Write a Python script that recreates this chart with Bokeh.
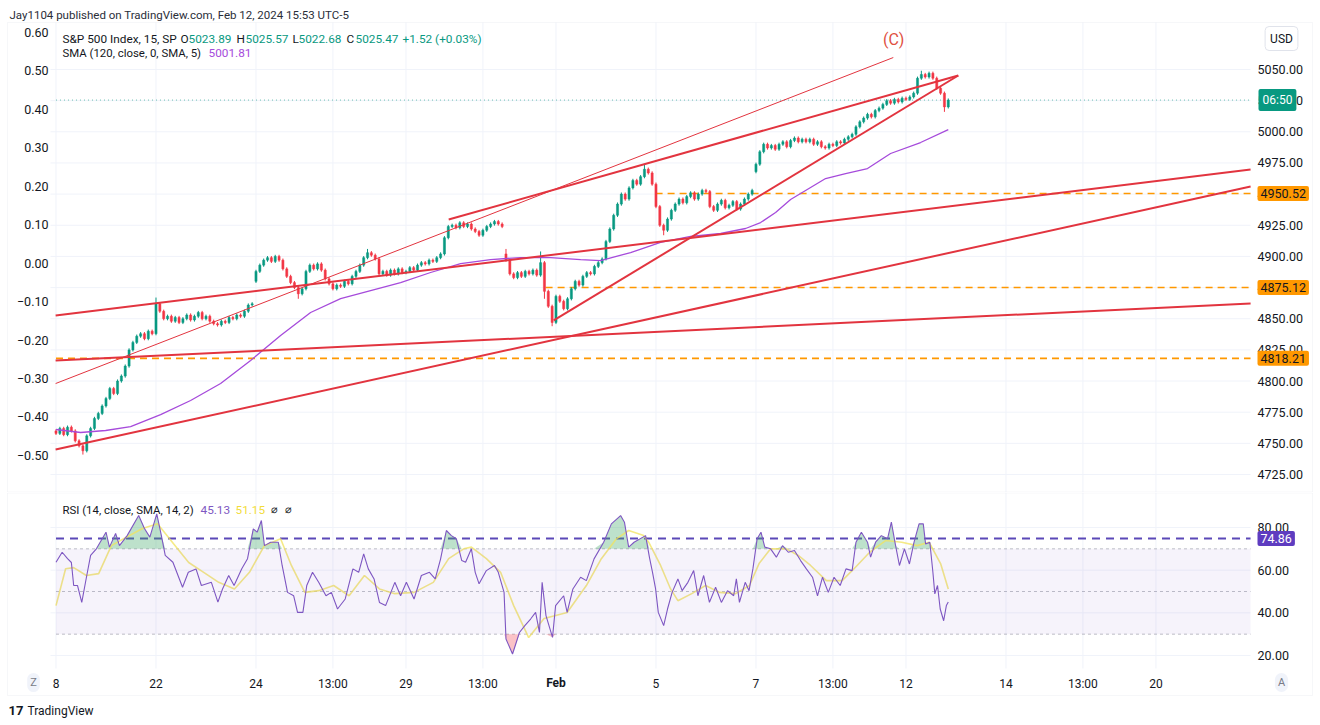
import numpy as np
from bokeh.plotting import figure
from bokeh.layouts import column
from bokeh.models import (Range1d, LinearAxis, FixedTicker, CustomJSTickFormatter,
                          NumeralTickFormatter, Label, ColumnDataSource, BoxAnnotation)
from bokeh.embed import file_html
from bokeh.resources import INLINE

FONT = "Roboto"
TXT = "#131722"
UP = "#089981"
DN = "#f23645"
TREND = "#e2343f"
ORANGE = "#ff9800"
GRID = "#f0f3fa"

# ---------------- data ----------------
# 15-min S&P 500 candles, condensed to 13 bars per session, Jan 18 .. Feb 12
closes = [
    4758, 4762, 4757, 4763, 4760, 4752, 4748, 4744, 4756, 4762, 4770, 4774, 4780,
    4786, 4794, 4790, 4800, 4804, 4812, 4825, 4831, 4836, 4838, 4834, 4840, 4838,
    4862, 4856, 4850, 4852, 4848, 4851, 4847, 4850, 4853, 4849, 4852, 4855, 4850,
    4852, 4848, 4846, 4845, 4848, 4847, 4851, 4850, 4853, 4852, 4856, 4861, 4862,
    4888, 4893, 4897, 4899, 4896, 4900, 4897, 4890, 4884, 4879, 4875, 4870, 4874,
    4888, 4893, 4890, 4894, 4889, 4882, 4878, 4874, 4877, 4876, 4880, 4878, 4884,
    4888, 4893, 4899, 4903, 4901, 4898, 4886, 4888, 4885, 4889, 4886, 4890, 4887,
    4888, 4891, 4889, 4893, 4895, 4894, 4897, 4896, 4899, 4902, 4915, 4924, 4925,
    4923, 4927, 4924, 4926, 4922, 4920, 4917, 4921, 4924, 4926, 4928, 4926, 4924,
    4897, 4886, 4883, 4887, 4884, 4888, 4886, 4889, 4885, 4895, 4872, 4860, 4847,
    4868, 4864, 4858, 4866, 4874, 4880, 4877, 4884, 4887, 4886, 4892, 4895, 4898,
    4912, 4922, 4933, 4942, 4950, 4946, 4955, 4961, 4958, 4964, 4970, 4967, 4958,
    4940, 4925, 4921, 4930, 4937, 4942, 4946, 4943, 4948, 4951, 4946, 4950, 4953,
    4952, 4940, 4937, 4942, 4945, 4939, 4941, 4944, 4938, 4942, 4946, 4950, 4953,
    4974, 4984, 4990, 4987, 4989, 4986, 4990, 4992, 4988, 4993, 4995, 4992, 4994,
    4992, 4994, 4990, 4992, 4988, 4987, 4990, 4989, 4992, 4991, 4994, 4996, 4998,
    5004, 5008, 5011, 5014, 5012, 5017, 5019, 5022, 5025, 5023, 5026, 5024, 5027,
    5026, 5028, 5031, 5043, 5046, 5044, 5047, 5043, 5035, 5031, 5020, 5025.47,
]
first_open = 4760.0
open_gaps = {52: 4880, 117: 4902, 182: 4968}
wick_ext = 1.3
wick_spikes = {7: (None, 4741), 26: (4867, None), 63: (None, 4866), 81: (4906, None),
               117: (4906, None), 126: (4904, None), 127: (None, 4866), 129: (None, 4844),
               153: (4974, None), 158: (None, 4917), 225: (5049, None), 231: (None, 5016)}
last_price = 5025.47

sma_x = [0, 6.4, 12.9, 19.4, 27.2, 35.0, 42.8, 50.6, 58.4, 66.2,
         74.0, 81.8, 89.6, 97.4, 105.2, 113.0, 120.8, 128.6, 136.4, 141.6,
         149.4, 157.2, 165.0, 172.8, 179.3, 183.2, 187.1, 191.0, 194.9, 200.1,
         205.3, 211.0, 217.0, 224.8, 232.0]
sma_v = [4761.1, 4758.7, 4760.3, 4763.5, 4773.1, 4784.4, 4798.0, 4816.5, 4836.5, 4855.0,
         4866.2, 4872.6, 4879.0, 4887.1, 4894.3, 4897.5, 4899.1, 4899.1, 4897.5, 4896.7,
         4903.1, 4911.2, 4916.0, 4918.4, 4922.4, 4927.2, 4935.2, 4945.7, 4952.9, 4962.5,
         4966.5, 4970.5, 4982.6, 4991.4, 5001.81]

rsi_x = [0, 1.6, 3.0, 4.0, 4.6, 5.6, 6.7, 8.0, 9.0, 10.5,
         13.0, 13.9, 15.5, 16.5, 18.5, 21.5, 23.0, 24.4, 26.2, 27.4,
         28.4, 30.4, 32.9, 34.4, 36.4, 37.8, 40.4, 42.1, 43.3, 44.9,
         46.3, 48.3, 49.8, 51.3, 52.3, 53.4, 54.2, 55.8, 57.8, 58.8,
         60.2, 61.8, 62.8, 64.2, 65.2, 66.7, 68.3, 70.2, 71.6, 73.2,
         75.2, 77.2, 78.7, 80.0, 81.2, 82.7, 84.1, 85.7, 88.1, 89.6,
         91.1, 93.1, 95.0, 97.1, 98.6, 100.0, 101.5, 102.8, 104.1, 105.5,
         106.5, 108.0, 109.0, 110.0, 111.9, 114.0, 115.0, 116.5, 117.0, 118.7,
         120.5, 121.9, 123.4, 124.7, 125.7, 126.4, 127.4, 129.1, 129.9, 132.0,
         132.9, 134.4, 136.4, 137.9, 139.9, 142.4, 144.4, 146.8, 147.8, 148.9,
         150.3, 153.3, 154.3, 155.1, 155.9, 156.6, 158.0, 159.0, 160.2, 161.7,
         162.8, 164.3, 165.8, 166.9, 168.4, 169.9, 171.5, 173.0, 174.6, 176.2,
         176.9, 177.7, 179.2, 180.2, 181.2, 182.3, 183.3, 184.3, 185.8, 187.3,
         188.9, 190.4, 192.0, 193.6, 195.1, 196.7, 198.0, 199.3, 200.8, 202.3,
         203.9, 205.4, 207.0, 208.0, 209.4, 211.0, 211.8, 213.1, 214.6, 216.2,
         217.2, 218.3, 219.3, 220.6, 221.9, 223.1, 224.4, 225.5, 226.1, 227.2,
         228.0, 228.5, 229.2, 229.9, 230.8, 231.5, 232.0]
rsi_v = [63.7, 68.4, 65.4, 63.6, 52.8, 52.8, 44.9, 57.5, 66.9, 70.0,
         77.8, 70.8, 77.2, 71.5, 76.2, 85.6, 79.5, 75.5, 86.4, 76.2,
         66.9, 63.7, 52.0, 59.0, 60.6, 52.8, 54.3, 45.0, 51.2, 57.5,
         52.8, 60.7, 65.4, 79.4, 77.8, 83.3, 71.5, 73.1, 73.1, 62.2,
         49.6, 48.0, 40.2, 40.2, 52.8, 59.0, 54.3, 48.0, 49.6, 41.8,
         46.5, 60.6, 59.0, 67.6, 60.6, 55.9, 44.9, 43.4, 54.3, 48.0,
         54.3, 46.5, 57.5, 59.0, 55.9, 65.3, 78.6, 76.2, 74.7, 64.5,
         63.7, 70.0, 59.0, 53.6, 59.8, 62.2, 59.0, 49.6, 27.7, 20.7,
         30.8, 34.0, 37.1, 40.2, 30.8, 54.3, 38.7, 28.5, 43.4, 48.0,
         40.2, 51.2, 56.7, 55.1, 65.3, 73.1, 81.7, 85.6, 82.5, 70.8,
         73.1, 76.2, 66.0, 59.0, 51.2, 40.2, 34.0, 41.8, 49.6, 55.9,
         50.4, 54.3, 59.8, 48.0, 57.5, 44.9, 52.0, 44.9, 50.4, 48.0,
         55.9, 44.9, 54.3, 50.4, 60.6, 74.7, 77.8, 70.8, 70.0, 66.1,
         71.5, 68.4, 69.2, 64.5, 60.6, 56.7, 48.0, 56.7, 49.6, 56.7,
         52.8, 60.6, 59.8, 73.1, 77.8, 73.1, 66.1, 73.1, 76.2, 74.7,
         82.5, 71.5, 62.2, 70.0, 62.9, 73.1, 81.7, 81.7, 72.3, 73.1,
         59.0, 48.9, 52.8, 41.8, 36.3, 43.4, 45.13]

rsima_x = [0, 2.5, 4.6, 7.9, 11.1, 14.4, 18.5, 22.5, 26.4, 30.3,
           34.5, 38.4, 42.3, 46.4, 50.3, 54.2, 58.4, 61.2, 64.7, 68.3,
           72.2, 76.2, 80.2, 84.1, 88.1, 93.1, 98.1, 102.1, 106.0, 108.0,
           111.9, 115.6, 119.0, 122.9, 126.9, 132.9, 137.9, 141.8, 145.7, 148.9,
           152.8, 154.1, 157.2, 159.8, 161.7, 165.3, 168.9, 172.5, 176.7, 180.3,
           182.8, 185.8, 189.9, 193.0, 196.2, 200.3, 204.4, 207.5, 211.5, 215.7,
           219.9, 223.9, 227.0, 230.0, 232.0]
rsima_v = [43.4, 60.7, 61.2, 57.5, 58.4, 71.5, 75.7, 79.5, 81.8, 73.0,
           63.6, 59.0, 54.3, 51.2, 59.0, 71.5, 74.7, 62.2, 49.6, 50.4,
           52.8, 48.0, 57.5, 51.2, 49.0, 49.6, 54.3, 65.4, 70.0, 70.8,
           65.4, 59.0, 43.4, 28.4, 37.3, 40.2, 52.8, 65.4, 74.7, 78.6,
           76.2, 73.1, 62.2, 51.2, 45.7, 49.0, 52.8, 49.6, 49.0, 52.8,
           63.1, 70.0, 70.0, 66.9, 62.2, 55.1, 55.1, 60.7, 68.3, 73.9,
           73.1, 71.5, 73.1, 63.1, 51.15]

# drawn trend lines (bar position, price) -> (bar position, price)
trend_x0 = [-0.1, 102.1, 129.4, -0.1, -0.1, -0.1]
trend_p0 = [4798.0, 4929.6, 4848.6, 4852.6, 4745.0, 4816.5]
trend_x1 = [217.7, 234.6, 234.6, 310.6, 310.6, 310.6]
trend_p1 = [5059.6, 5045.2, 5045.2, 4969.7, 4956.1, 4862.2]
trend_w = [1, 2, 2, 2, 2, 2]

level_price = [4950.52, 4875.12, 4818.21]
level_start = [155.9, 127.3, 0.0]
level_text = ["4950.52", "4875.12", "4818.21"]
rsi_level = 74.86
rsi_bands = [70, 50, 30]

time_tick_pos = [0, 26, 52, 72, 91, 111, 130, 156, 182, 202, 221, 247, 267, 286]
time_tick_lab = ["8", "22", "24", "13:00", "29", "13:00", "Feb", "5", "7", "13:00",
                 "12", "14", "13:00", "20"]
price_ticks = [4725, 4750, 4775, 4800, 4825, 4850, 4875, 4900, 4925, 4950, 4975, 5000, 5025, 5050]
pct_ticks = [-0.5, -0.4, -0.3, -0.2, -0.1, 0.0, 0.1, 0.2, 0.3, 0.4, 0.5, 0.6]
rsi_ticks = [20, 40, 60, 80]

wave_text = "(C)"
wave_x = 217.8
wave_price = 5074.0

# ---------------- layout constants (canvas spans whole window) ----------------
W = 1318
H_MAIN = 492
H_RSI = 232
XR = (-14.43, 328.26)          # bar-position range across the whole canvas width
PANE_L, PANE_R = -1.43, 310.59  # pane edges (price scales sit outside)
MAIN_Y = (4710.56, 5105.37)     # price range across the main canvas height
PANE_TOP_PRICE = 5087.72
PCT_Y = (-0.5964, 0.6832)
RSI_Y = (-12.34, 96.41)
RSI_PANE_BOT = 13.91
TIME_AXIS_LOC = 10.16

# ---------------- candles ----------------
n = len(closes)
bars = list(range(n))
opens = [first_open] + list(closes[:-1])
for k, v in open_gaps.items():
    opens[k] = v
highs = [max(o, c) + wick_ext for o, c in zip(opens, closes)]
lows = [min(o, c) - wick_ext for o, c in zip(opens, closes)]
for k, (h, l) in wick_spikes.items():
    if h is not None:
        highs[k] = h
    if l is not None:
        lows[k] = l
colors = [UP if c >= o else DN for o, c in zip(opens, closes)]
bot = [min(o, c) for o, c in zip(opens, closes)]
top = [max(max(o, c), b + 0.7) for o, c, b in zip(opens, closes, bot)]
csrc = ColumnDataSource(dict(x=bars, h=highs, l=lows, top=top, bot=bot, color=colors))


def lab(fig, x, y, text, color=TXT, size="12px", align="left", style="normal",
        xu="screen", yu="screen", **kw):
    fig.add_layout(Label(x=x, y=y, x_units=xu, y_units=yu, text=text, text_color=color,
                         text_font=FONT, text_font_size=size, text_align=align,
                         text_baseline="middle", text_font_style=style, **kw))


def style_axis(a, size="12px", standoff=7):
    a.axis_line_color = None
    a.major_tick_line_color = None
    a.minor_tick_line_color = None
    a.major_tick_out = 0
    a.major_tick_in = 0
    a.minor_tick_out = 0
    a.minor_tick_in = 0
    a.major_label_text_font = FONT
    a.major_label_text_font_size = size
    a.major_label_text_color = TXT
    a.major_label_standoff = standoff


def box(fig, left, right, top_, bottom):
    fig.add_layout(BoxAnnotation(left=left, right=right, top=top_, bottom=bottom,
                                 left_units="screen", right_units="screen",
                                 top_units="screen", bottom_units="screen",
                                 fill_color=None, line_color="#e0e3eb", line_width=1))


# ---------------- main pane ----------------
p = figure(width=W, height=H_MAIN, x_range=Range1d(*XR), y_range=Range1d(*MAIN_Y),
           output_backend="svg", toolbar_location=None, x_axis_location=None,
           y_axis_location=None, min_border=0)
p.outline_line_color = None
p.background_fill_color = "white"
p.border_fill_color = "white"
p.grid.visible = False
p.extra_y_ranges = {"pct": Range1d(*PCT_Y)}

price_ax = LinearAxis(ticker=FixedTicker(ticks=price_ticks),
                      formatter=NumeralTickFormatter(format="0.00"), fixed_location=PANE_R)
style_axis(price_ax, "12.5px", 7)
p.add_layout(price_ax, "right")
pct_ax = LinearAxis(y_range_name="pct", ticker=FixedTicker(ticks=pct_ticks),
                    fixed_location=PANE_L,
                    formatter=CustomJSTickFormatter(code="""
                        const v = Math.abs(tick) < 1e-9 ? 0 : tick;
                        return (v < 0 ? "\\u2212" : "") + Math.abs(v).toFixed(2);"""))
style_axis(pct_ax, "12.5px", 2)
p.add_layout(pct_ax, "left")

# grid
npt = len(price_ticks)
p.segment(x0=[PANE_L] * npt, y0=price_ticks, x1=[PANE_R] * npt, y1=price_ticks,
          line_color=GRID, line_width=1)
ntt = len(time_tick_pos)
p.segment(x0=time_tick_pos, y0=[MAIN_Y[0]] * ntt, x1=time_tick_pos, y1=[PANE_TOP_PRICE] * ntt,
          line_color=GRID, line_width=1)
box(p, 7, 1312, 470, 0.5)

# last price line
p.segment(x0=[0], y0=[last_price], x1=[PANE_R], y1=[last_price], line_color=UP,
          line_alpha=0.6, line_width=1, line_dash="1 3")
# horizontal levels
p.segment(x0=level_start, y0=level_price, x1=[PANE_R] * len(level_price), y1=level_price,
          line_color=ORANGE, line_width=1.6, line_dash="7 5")
# candles
p.segment(x0="x", y0="l", x1="x", y1="h", line_color="color", line_width=1, source=csrc)
p.vbar(x="x", width=0.55, top="top", bottom="bot", fill_color="color", line_color="color",
       line_width=0.5, source=csrc)
# SMA
p.line(sma_x, sma_v, line_color="#a64bdb", line_width=1.3)
# trend lines
p.segment(x0=trend_x0, y0=trend_p0, x1=trend_x1, y1=trend_p1, line_color=TREND,
          line_width=trend_w)

# wave label
lab(p, wave_x, wave_price, wave_text, color="#e0503f", size="16px", align="center",
    xu="data", yu="data")

# header + legend
lab(p, 9, 478, "Jay1104 published on TradingView.com, Feb 12, 2024 15:53 UTC-5",
    color="#2a2e39", size="11.5px")
lab(p, 62, 454, "S&P 500 Index, 15, SP", size="11.8px")
legend_parts = [(180, "O", TXT), (188, "5023.89", UP), (236, "H", TXT), (245, "5025.57", UP),
                (292, "L", TXT), (298, "5022.68", UP), (346, "C", TXT), (355, "5025.47", UP),
                (402, "+1.52 (+0.03%)", UP)]
for sx, t, c in legend_parts:
    lab(p, sx, 454, t, color=c, size="11.8px")
lab(p, 62, 440, "SMA (120, close, 0, SMA, 5)", size="11.4px")
lab(p, 208, 440, "5001.81", color="#a64bdb", size="11.8px")

# right-scale boxes
lab(p, 1281, 454, "USD", align="center", background_fill_color="white",
    border_line_color="#e0e3eb", padding=5, border_radius=4)
lab(p, 1258, last_price, "06:50", color="white", yu="data",
    background_fill_color=UP, padding=4, border_radius=2)
for pr, t in zip(level_price, level_text):
    lab(p, 1257, pr, t, color=TXT, yu="data", size="12.5px",
        background_fill_color=ORANGE, padding=3, border_radius=2)

# ---------------- RSI pane ----------------
r = figure(width=W, height=H_RSI, x_range=p.x_range, y_range=Range1d(*RSI_Y),
           output_backend="svg", toolbar_location=None, x_axis_location=None,
           y_axis_location=None, min_border=0)
r.outline_line_color = None
r.background_fill_color = "white"
r.border_fill_color = "white"
r.grid.visible = False

rsi_ax = LinearAxis(ticker=FixedTicker(ticks=rsi_ticks),
                    formatter=NumeralTickFormatter(format="0.00"), fixed_location=PANE_R)
style_axis(rsi_ax, "12.5px", 7)
r.add_layout(rsi_ax, "right")
time_ax = LinearAxis(ticker=FixedTicker(ticks=time_tick_pos), fixed_location=TIME_AXIS_LOC)
time_ax.major_label_overrides = {pos: ("" if t == "Feb" else t)
                                 for pos, t in zip(time_tick_pos, time_tick_lab)}
style_axis(time_ax, "12px", 0)
r.add_layout(time_ax, "below")

nrt = len(rsi_ticks)
r.segment(x0=[PANE_L] * nrt, y0=rsi_ticks, x1=[PANE_R] * nrt, y1=rsi_ticks,
          line_color=GRID, line_width=1)
r.segment(x0=time_tick_pos, y0=[RSI_PANE_BOT] * ntt, x1=time_tick_pos, y1=[RSI_Y[1]] * ntt,
          line_color=GRID, line_width=1)
box(r, 7, 1312, 231.5, 29)

r.add_layout(BoxAnnotation(bottom=30, top=70, left=0, right=PANE_R, fill_color="#7e57c2",
                           fill_alpha=0.07, line_color=None))
nb = len(rsi_bands)
r.segment(x0=[0] * nb, y0=rsi_bands, x1=[PANE_R] * nb, y1=rsi_bands, line_color="#9598a1",
          line_alpha=0.6, line_width=1, line_dash="3 3")
r.segment(x0=[0], y0=[rsi_level], x1=[PANE_R], y1=[rsi_level], line_color="#5b48b8",
          line_width=2, line_dash="8 6")

m = min(len(rsi_x), len(rsi_v))
rx_arr = np.array(rsi_x[:m], dtype=float)
rv_arr = np.array(rsi_v[:m], dtype=float)
r.varea(x=rx_arr, y1=np.full(m, 70.0), y2=np.maximum(rv_arr, 70.0), fill_color="#43a86a",
        fill_alpha=0.35)
r.varea(x=rx_arr, y1=np.minimum(rv_arr, 30.0), y2=np.full(m, 30.0), fill_color=DN,
        fill_alpha=0.3)
mm = min(len(rsima_x), len(rsima_v))
r.line(rsima_x[:mm], rsima_v[:mm], line_color="#f2e35c", line_alpha=0.75, line_width=1.6)
r.line(rx_arr, rv_arr, line_color="#7e57c2", line_width=1.1)

lab(r, 62, 215, "RSI (14, close, SMA, 14, 2)", size="11.4px")
lab(r, 200, 215, "45.13", color="#7e57c2", size="11.8px")
lab(r, 235, 215, "51.15", color="#f2dc3a", size="11.8px")
lab(r, 270, 215, "\u2300", size="11px")
lab(r, 284, 215, "\u2300", size="11px")
lab(r, 1257, rsi_level, "74.86", color="white", yu="data", size="12.5px",
    background_fill_color="#5e3cc0", padding=3, border_radius=2)

# Feb (bold) on the time scale
lab(r, 130, 42, "Feb", style="bold", align="center", xu="data")
# scale buttons
lab(r, 33, 42, "Z", color="#787b86", size="11px", align="center",
    background_fill_color="#f0f3fa", padding=3, border_radius=9)
lab(r, 1281, 42, "A", color="#787b86", size="11px", align="center",
    background_fill_color="#f0f3fa", padding=3, border_radius=9)
# footer
lab(r, 8, 14, "17", color="#131722", size="13px", style="bold")
lab(r, 27, 14, "TradingView", color="#131722", size="12px")

layout = column(p, r, spacing=0)
open("out.html", "w").write(file_html(layout, INLINE))
